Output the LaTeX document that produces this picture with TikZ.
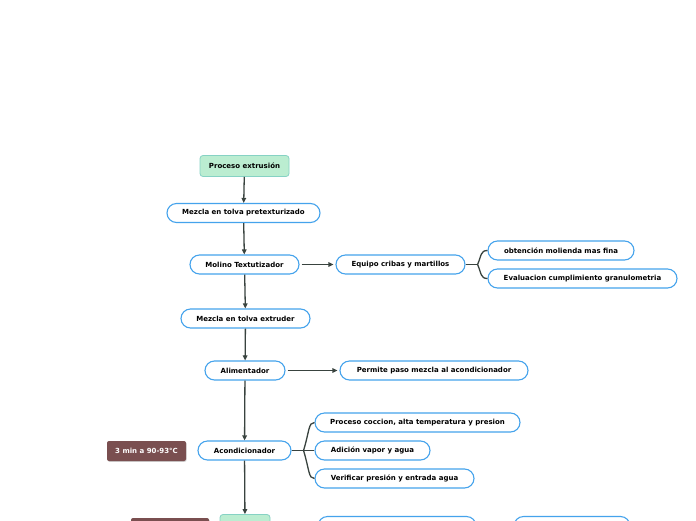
\documentclass[tikz,border=0pt]{standalone}
\usepackage{fontspec}
\setmainfont{DejaVu Sans}
\usepackage{tikz}
\usetikzlibrary{arrows.meta,shadows}

\definecolor{pillblue}{HTML}{45A3EC}
\definecolor{mintfill}{HTML}{BBEDD1}
\definecolor{mintline}{HTML}{86D2C4}
\definecolor{notebrown}{HTML}{7A4F50}
\definecolor{linkgray}{HTML}{39433F}

\tikzset{
  pill/.style={draw=pillblue, line width=1.1pt, fill=white, rounded corners=9.5pt,
    minimum height=19pt, inner xsep=2pt, font=\fontsize{7}{8}\selectfont\bfseries},
  rootbox/.style={draw=mintline, line width=0.8pt, fill=mintfill, rounded corners=3pt,
    minimum height=21pt, inner xsep=2pt, font=\fontsize{7}{8}\selectfont\bfseries},
  notebox/.style={fill=notebrown, rounded corners=2pt, text=white, minimum height=20pt,
    inner xsep=2pt, drop shadow={opacity=0.35, shadow xshift=0.6pt, shadow yshift=-0.8pt},
    font=\fontsize{7}{8}\selectfont\bfseries},
  flow/.style={draw=linkgray, line width=1.3pt, -{Triangle[length=5pt,width=4.5pt]}},
  branch/.style={draw=linkgray, line width=1.3pt}
}

\begin{document}
\begin{tikzpicture}[x=1pt,y=-1pt]
\useasboundingbox[fill=white] (0,0) rectangle (696,520);

% Main chain
\node[rootbox, minimum width=89pt] (root) at (244.5,166) {Proceso extrusión};
\node[pill, minimum width=153pt] (pretex) at (243.5,213) {Mezcla en tolva pretexturizado};
\node[pill, minimum width=109pt] (molino) at (244.5,264.5) {Molino Textutizador};
\node[pill, minimum width=129pt] (extruder) at (245.5,318.5) {Mezcla en tolva extruder};
\node[pill, minimum width=80pt] (alim) at (245,370.5) {Alimentador};
\node[pill, minimum width=93pt] (acond) at (244.5,450.5) {Acondicionador};

% Side branches
\node[pill, minimum width=129pt] (equipo) at (400.5,264.5) {Equipo cribas y martillos};
\node[pill, minimum width=146pt] (moliend) at (561,250.5) {obtención molienda mas fina};
\node[pill, minimum width=189pt] (granulo) at (582.5,278.5) {Evaluacion cumplimiento granulometria};
\node[pill, minimum width=188pt] (permite) at (434,370.5) {Permite paso mezcla al acondicionador};
\node[pill, minimum width=205pt] (coccion) at (417.5,422.5) {Proceso coccion, alta temperatura y presion};
\node[pill, minimum width=115pt] (vapor) at (372.5,450.5) {Adición vapor y agua};
\node[pill, minimum width=159pt] (presion) at (394.5,478.5) {Verificar presión y entrada agua};

% Notes
\node[notebox, minimum width=79pt] (tiempo) at (146.5,451) {3 min a 90-93°C};

% Cut off at the bottom
\node[rootbox, minimum width=50pt] (next) at (245,525) {};
\node[notebox, minimum width=78pt] (nextnote) at (170,528) {};
\node[pill, minimum width=158pt] (nexta) at (397,526) {};
\node[pill, minimum width=116pt] (nextb) at (572,526) {};

% Arrows
\draw[flow] (root) -- (pretex);
\draw[flow] (pretex) -- (molino);
\draw[flow] (molino) -- (extruder);
\draw[flow] (extruder) -- (alim);
\draw[flow] (alim) -- (acond);
\draw[flow] (acond) -- (next);
\draw[flow] ([xshift=2pt]molino.east) -- ([xshift=-2pt]equipo.west);
\draw[flow] ([xshift=2pt]alim.east) -- ([xshift=-2pt]permite.west);

% Branch curves
\draw[branch] (equipo.east) -- ++(12,0) coordinate (jeq);
\draw[branch] (jeq) .. controls +(4,-9) and +(-7,0) .. (moliend.west);
\draw[branch] (jeq) .. controls +(4,9) and +(-7,0) .. (granulo.west);

\draw[branch] (acond.east) -- ++(12,0) coordinate (jac);
\draw[branch] (jac) .. controls +(6,-20) and +(-6,0) .. (coccion.west);
\draw[branch] (jac) -- (vapor.west);
\draw[branch] (jac) .. controls +(6,20) and +(-6,0) .. (presion.west);
\end{tikzpicture}
\end{document}
